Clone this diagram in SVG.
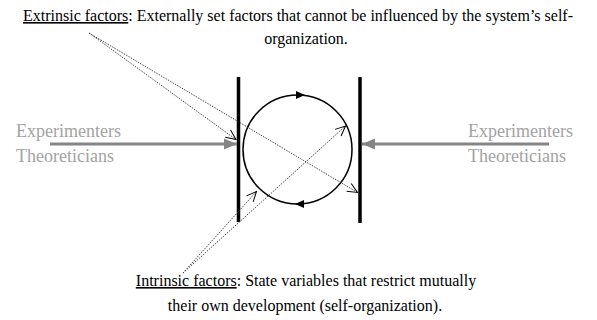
<svg xmlns="http://www.w3.org/2000/svg" width="597" height="320" viewBox="0 0 597 320">
<style>
.t{font-family:"Liberation Serif","Times New Roman",serif;font-size:16px;fill:#000}
.g{font-family:"Liberation Serif","Times New Roman",serif;font-size:18px;fill:#a3a3a3}
.bar{stroke:#000;stroke-width:3.5;fill:none}
.dot{stroke:#333;stroke-width:0.9;stroke-dasharray:1.5 1.2;fill:none}
.gray{stroke:#858585;stroke-width:3;fill:none}
</style>
<defs>
<marker id="open" markerUnits="userSpaceOnUse" markerWidth="12" markerHeight="12" viewBox="0 0 12 12" refX="11" refY="5" orient="auto">
<path d="M1,0.5 L11,5 L1,9.5" fill="none" stroke="#000" stroke-width="1"/>
</marker>
<marker id="garrow" markerUnits="userSpaceOnUse" markerWidth="14" markerHeight="12" viewBox="0 0 14 12" refX="13" refY="6" orient="auto">
<path d="M0,0.5 L13,6 L0,11.5 Z" fill="#858585"/>
</marker>
</defs>
<g id="extrinsic-label">
<text class="t" x="298" y="21" text-anchor="middle"><tspan text-decoration="underline">Extrinsic factors</tspan>: Externally set factors that cannot be influenced by the system’s self-</text>
<text class="t" x="306" y="44" text-anchor="middle">organization.</text>
</g>
<g id="intrinsic-label">
<text class="t" x="306" y="286" text-anchor="middle"><tspan text-decoration="underline">Intrinsic factors</tspan>: State variables that restrict mutually</text>
<text class="t" x="305" y="311" text-anchor="middle">their own development (self-organization).</text>
</g>
<g id="left-actors">
<text class="g" x="16" y="137">Experimenters</text>
<text class="g" x="16" y="162">Theoreticians</text>
</g>
<g id="right-actors">
<text class="g" x="468" y="137">Experimenters</text>
<text class="g" x="468" y="162">Theoreticians</text>
</g>
<g id="left-boundary"><line class="bar" x1="238.5" y1="77" x2="238.5" y2="222"/></g>
<g id="right-boundary"><line class="bar" x1="360" y1="77" x2="360" y2="223"/></g>
<g id="system">
<circle cx="297.5" cy="149.5" r="54.5" fill="none" stroke="#000" stroke-width="1.5"/>
<path d="M296,91 L305,95 L296,99 Z" fill="#000"/>
<path d="M304,200 L295,204 L304,208 Z" fill="#000"/>
</g>
<g id="connectors">
<line class="gray" x1="50" y1="144" x2="237" y2="144" marker-end="url(#garrow)"/>
<line class="gray" x1="549" y1="144" x2="362" y2="144" marker-end="url(#garrow)"/>
<line class="dot" x1="89" y1="33" x2="236" y2="139.5" marker-end="url(#open)"/>
<line class="dot" x1="89" y1="33" x2="357.5" y2="192.5" marker-end="url(#open)"/>
<line class="dot" x1="183" y1="273" x2="256.5" y2="191.5" marker-end="url(#open)"/>
<line class="dot" x1="183" y1="273" x2="345.5" y2="126" marker-end="url(#open)"/>
</g>
</svg>
